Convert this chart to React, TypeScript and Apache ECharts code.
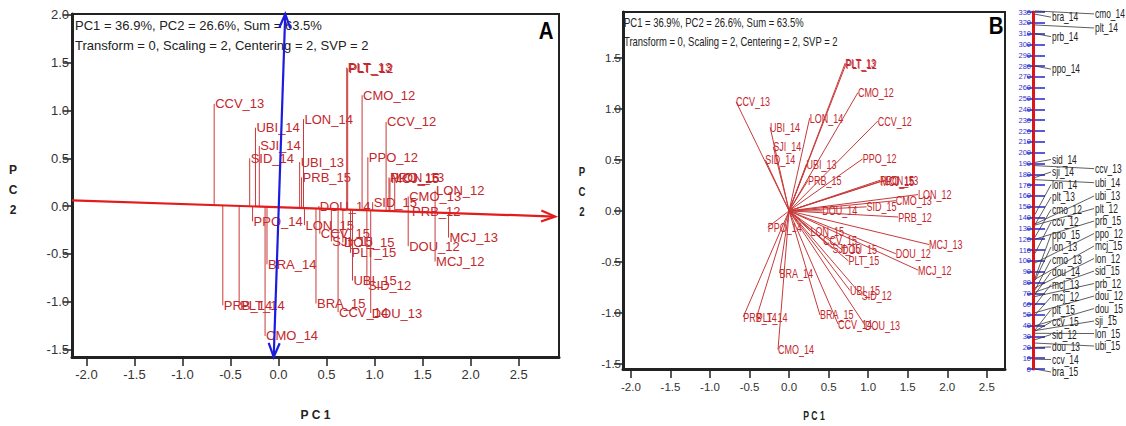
import React, { useEffect, useRef } from "react";
import * as echarts from "echarts";

// Genotype-by-environment scores on the first two principal components
const genotypes = [
  "CCV_13", "UBI_14", "SJI_14", "SID_14", "LON_14", "UBI_13", "PRB_15", "PLT_13",
  "PLT_12", "CMO_12", "CCV_12", "PPO_12", "PPO_15", "MCJ_15", "LON_13", "LON_12",
  "CMO_13", "SID_15", "DOU_14", "PRB_12", "MCJ_13", "DOU_12", "MCJ_12", "DOU_15",
  "SJI_15", "CCV_15", "LON_15", "PLT_15", "PPO_14", "BRA_14", "UBI_15", "SID_12",
  "BRA_15", "CCV_14", "DOU_13", "PRB_14", "PLT_14", "CMO_14",
];
const pc1 = [
  -0.67, -0.24, -0.2, -0.3, 0.26, 0.22, 0.24, 0.71,
  0.72, 0.87, 1.12, 0.93, 1.15, 1.16, 1.21, 1.63,
  1.35, 0.98, 0.42, 1.38, 1.77, 1.35, 1.63, 0.67,
  0.55, 0.43, 0.27, 0.75, -0.27, -0.12, 0.77, 0.92,
  0.39, 0.62, 0.96, -0.58, -0.41, -0.14,
];
const pc2 = [
  1.07, 0.82, 0.63, 0.5, 0.91, 0.46, 0.3, 1.45,
  1.44, 1.16, 0.88, 0.51, 0.3, 0.29, 0.3, 0.16,
  0.1, 0.04, 0.0, -0.06, -0.33, -0.42, -0.58, -0.38,
  -0.37, -0.29, -0.2, -0.49, -0.16, -0.61, -0.78, -0.83,
  -1.02, -1.11, -1.12, -1.04, -1.04, -1.36,
];

// Axis ranges and tick values
const xRangeA = [-2.15, 2.92];
const yRangeA = [-1.58, 2.01];
const xRangeB = [-2.1, 2.73];
const yRangeB = [-1.55, 1.95];
const xTicks = [-2.0, -1.5, -1.0, -0.5, 0.0, 0.5, 1.0, 1.5, 2.0, 2.5];
const yTicksA = [-1.5, -1.0, -0.5, 0.0, 0.5, 1.0, 1.5, 2.0];
const yTicksB = [-1.5, -1.0, -0.5, 0.0, 0.5, 1.0, 1.5];

// Average-environment abscissa (red) and ordinate (blue) in panel A
const aecAbscissa = [-2.15, 0.06, 2.88, -0.11];
const aecOrdinate = [-0.05, -1.58, 0.07, 2.01];

// Angular positions of the vectors around the biplot origin (degrees)
const ringNames = [
  "bra_15", "ccv_14", "dou_13", "ubi_15", "sid_12", "lon_15", "ccv_15", "sji_15",
  "plt_15", "dou_15", "mcj_12", "dou_12", "mcj_13", "prb_12", "dou_14", "sid_15",
  "cmo_13", "lon_12", "lon_13", "mcj_15", "ppo_15", "ppo_12", "ccv_12", "prb_15",
  "cmo_12", "plt_12", "plt_13", "ubi_13", "lon_14", "ubi_14", "sji_14", "ccv_13",
  "sid_14", "ppo_14", "prb_14", "plt_14", "bra_14", "cmo_14",
];
const ringValues = [
  0, 9, 20, 24, 27, 33, 35, 35.5,
  36, 40, 50, 52, 59, 67, 69, 71,
  73, 75, 82, 83, 84, 98, 107, 120,
  122, 133, 133.5, 134, 143, 175, 177, 188,
  191, 280, 310, 318, 328, 331,
];
const ringRange = [0, 330];

const SANS = '"Liberation Sans", Arial, sans-serif';
const LABEL_RED = "#c3262b";
const LINE_RED = "#c83a3a";

// Two-column label placement for the angular scale: labels are pushed upward
// when they would collide, alternating columns to keep them close to their tick.
function layoutRing(values: number[], pxPerUnit: number) {
  const gap = 12.5 / pxPerUnit;
  const bias = 3.5 / pxPerUnit;
  const order = values.map((_, i) => i).sort((a, b) => values[a] - values[b]);
  const next = [-Infinity, -Infinity];
  const out: { col: number; lv: number }[] = new Array(values.length);
  for (const i of order) {
    const v = values[i];
    const p0 = Math.max(v, next[0]) - v;
    const p1 = Math.max(v, next[1]) - v;
    const col = p0 <= p1 + bias ? 0 : 1;
    const lv = v + (col === 0 ? p0 : p1);
    next[col] = lv + gap;
    out[i] = { col, lv };
  }
  return out;
}

function chevron(tip: number[], base: number[], len: number, half: number) {
  const dx = tip[0] - base[0];
  const dy = tip[1] - base[1];
  const d = Math.hypot(dx, dy) || 1;
  const ux = dx / d;
  const uy = dy / d;
  const bx = tip[0] - ux * len;
  const by = tip[1] - uy * len;
  return [
    [bx - uy * half, by + ux * half],
    [tip[0], tip[1]],
    [bx + uy * half, by - ux * half],
  ];
}

function axisAt(x: number) {
  const [x1, y1, x2, y2] = aecAbscissa;
  return y1 + ((x - x1) * (y2 - y1)) / (x2 - x1);
}

function cartAxis(range: number[], ticks: number[], size: number, extra: any) {
  return {
    type: "value",
    min: range[0],
    max: range[1],
    axisLine: { show: true, onZero: false, lineStyle: { color: "#222", width: 3 } },
    axisTick: {
      show: true,
      inside: false,
      length: 9,
      customValues: ticks,
      lineStyle: { color: "#222", width: 1.5 },
    },
    axisLabel: {
      show: true,
      customValues: ticks,
      formatter: (v: number) => v.toFixed(1),
      color: "#333",
      fontFamily: SANS,
      fontSize: size,
      ...extra,
    },
    splitLine: { show: false },
  };
}

function infoText(x: number, y: number, text: string, size: number, scaleX: number) {
  return {
    type: "text",
    x,
    y,
    scaleX,
    style: { text, font: `${size}px ${SANS}`, fill: "#222", verticalAlign: "middle" },
  };
}

export default function App() {
  const ref = useRef<HTMLDivElement>(null);

  useEffect(() => {
    document.body.style.margin = "0";
    if (!ref.current) return;
    const chart = echarts.init(ref.current, null, { renderer: "svg" });

    const ringGrid = { left: 1033, top: 12, width: 12, height: 357 };
    const ringLayout = layoutRing(ringValues, ringGrid.height / (ringRange[1] - ringRange[0]));
    const points = pc1.map((x, i) => [x, pc2[i]]);

    const arrowSeries = (seg: number[], color: string, headStart: boolean) => ({
      type: "custom",
      xAxisIndex: 0,
      yAxisIndex: 0,
      silent: true,
      clip: false,
      data: [seg],
      renderItem: (_p: any, api: any) => {
        const a = api.coord([api.value(0), api.value(1)]);
        const b = api.coord([api.value(2), api.value(3)]);
        const children: any[] = [
          {
            type: "line",
            shape: { x1: a[0], y1: a[1], x2: b[0], y2: b[1] },
            style: { stroke: color, lineWidth: 2.2 },
          },
          {
            type: "polyline",
            shape: { points: chevron(b, a, 14, 5.5) },
            style: { stroke: color, lineWidth: 2.2, fill: null },
          },
        ];
        if (headStart) {
          children.push({
            type: "polyline",
            shape: { points: chevron(a, b, 14, 5.5) },
            style: { stroke: color, lineWidth: 2.2, fill: null },
          });
        }
        return { type: "group", children };
      },
    });

    const option: any = {
      animation: false,
      backgroundColor: "#ffffff",
      grid: [
        { left: 72, top: 14, width: 487, height: 352, show: true, borderColor: "#222", borderWidth: 2 },
        { left: 623, top: 12, width: 382, height: 357, show: true, borderColor: "#222", borderWidth: 2 },
        ringGrid,
      ],
      xAxis: [
        {
          gridIndex: 0,
          ...cartAxis(xRangeA, xTicks, 13, { margin: 11 }),
          name: "P C 1",
          nameLocation: "middle",
          nameGap: 52,
          nameTextStyle: { fontWeight: "bold", fontSize: 12, color: "#222", fontFamily: SANS },
        },
        { gridIndex: 1, ...cartAxis(xRangeB, xTicks, 11.5, { margin: 12 }) },
        { gridIndex: 2, type: "value", min: 0, max: 1, show: false },
      ],
      yAxis: [
        { gridIndex: 0, ...cartAxis(yRangeA, yTicksA, 13, { margin: 3 }) },
        { gridIndex: 1, ...cartAxis(yRangeB, yTicksB, 11.5, { margin: 2 }) },
        {
          gridIndex: 2,
          type: "value",
          min: ringRange[0],
          max: ringRange[1],
          interval: 10,
          axisLine: { show: true, lineStyle: { color: "#e01414", width: 3 } },
          axisTick: { show: true, length: 6, lineStyle: { color: "#2424c4", width: 1.5 } },
          axisLabel: { color: "#3434cc", fontSize: 7.5, margin: 2, fontFamily: SANS },
          splitLine: { show: true, lineStyle: { color: "#2424c4", width: 1.5 } },
        },
      ],
      graphic: [
        infoText(75, 25, "PC1 = 36.9%, PC2 = 26.6%, Sum = 63.5%", 13, 1),
        infoText(75, 45, "Transform = 0, Scaling = 2, Centering = 2, SVP = 2", 13, 1),
        infoText(624, 23, "PC1 = 36.9%, PC2 = 26.6%, Sum = 63.5%", 12, 0.79),
        infoText(624, 42, "Transform = 0, Scaling = 2, Centering = 2, SVP = 2", 12, 0.79),
        {
          type: "text",
          x: 546,
          y: 31,
          scaleX: 0.85,
          style: { text: "A", font: `bold 24px ${SANS}`, fill: "#000", align: "center", verticalAlign: "middle" },
        },
        {
          type: "text",
          x: 996,
          y: 26,
          scaleX: 0.85,
          style: { text: "B", font: `bold 24px ${SANS}`, fill: "#000", align: "center", verticalAlign: "middle" },
        },
        {
          type: "text",
          x: 13,
          y: 190,
          style: {
            text: "P\nC\n2",
            font: `bold 12px ${SANS}`,
            lineHeight: 20,
            fill: "#222",
            align: "center",
            verticalAlign: "middle",
          },
        },
        {
          type: "text",
          x: 582,
          y: 192,
          scaleX: 0.8,
          style: {
            text: "P\nC\n2",
            font: `bold 12px ${SANS}`,
            lineHeight: 20,
            fill: "#222",
            align: "center",
            verticalAlign: "middle",
          },
        },
        {
          type: "text",
          x: 814,
          y: 416,
          scaleX: 0.72,
          style: {
            text: "P C 1",
            font: `bold 12px ${SANS}`,
            fill: "#222",
            align: "center",
            verticalAlign: "middle",
          },
        },
      ],
      series: [
        // Panel A: projections onto the average-environment axis, with labels
        {
          type: "custom",
          xAxisIndex: 0,
          yAxisIndex: 0,
          silent: true,
          clip: false,
          data: points,
          renderItem: (p: any, api: any) => {
            const x = api.value(0);
            const y = api.value(1);
            const pt = api.coord([x, y]);
            const base = api.coord([x, axisAt(x)]);
            return {
              type: "group",
              children: [
                {
                  type: "line",
                  shape: { x1: base[0], y1: base[1], x2: pt[0], y2: pt[1] },
                  style: { stroke: LINE_RED, lineWidth: 1 },
                },
                {
                  type: "text",
                  x: pt[0] + 1,
                  y: pt[1],
                  style: {
                    text: genotypes[p.dataIndex],
                    font: `13px ${SANS}`,
                    fill: LABEL_RED,
                    align: "left",
                    verticalAlign: "middle",
                  },
                },
              ],
            };
          },
        },
        arrowSeries(aecAbscissa, "#e41b1b", false),
        arrowSeries(aecOrdinate, "#1c1ce0", true),
        // Panel B: vectors from the origin
        {
          type: "custom",
          xAxisIndex: 1,
          yAxisIndex: 1,
          silent: true,
          clip: false,
          data: points,
          renderItem: (p: any, api: any) => {
            const o = api.coord([0, 0]);
            const pt = api.coord([api.value(0), api.value(1)]);
            return {
              type: "group",
              children: [
                {
                  type: "line",
                  shape: { x1: o[0], y1: o[1], x2: pt[0], y2: pt[1] },
                  style: { stroke: LINE_RED, lineWidth: 1 },
                },
                {
                  type: "text",
                  x: pt[0],
                  y: pt[1],
                  scaleX: 0.75,
                  style: {
                    text: genotypes[p.dataIndex],
                    font: `12px ${SANS}`,
                    fill: LABEL_RED,
                    align: "left",
                    verticalAlign: "middle",
                  },
                },
              ],
            };
          },
        },
        // Angular scale labels
        {
          type: "custom",
          xAxisIndex: 2,
          yAxisIndex: 2,
          silent: true,
          clip: false,
          data: ringValues.map((v) => [0, v]),
          renderItem: (p: any, api: any) => {
            const i = p.dataIndex;
            const a = api.coord([0, api.value(1)]);
            const l = api.coord([0, ringLayout[i].lv]);
            const tx = ringLayout[i].col === 0 ? a[0] + 19 : a[0] + 62;
            const ty = l[1] + 3;
            return {
              type: "group",
              children: [
                {
                  type: "line",
                  shape: { x1: a[0] + 2, y1: a[1], x2: tx - 1, y2: ty },
                  style: { stroke: "#333", lineWidth: 0.8 },
                },
                {
                  type: "text",
                  x: tx,
                  y: ty,
                  scaleX: 0.7,
                  style: {
                    text: ringNames[i],
                    font: `12px ${SANS}`,
                    fill: "#222",
                    align: "left",
                    verticalAlign: "middle",
                  },
                },
              ],
            };
          },
        },
      ],
    };

    chart.setOption(option);
    return () => chart.dispose();
  }, []);

  return <div ref={ref} style={{ width: 1126, height: 426 }} />;
}
